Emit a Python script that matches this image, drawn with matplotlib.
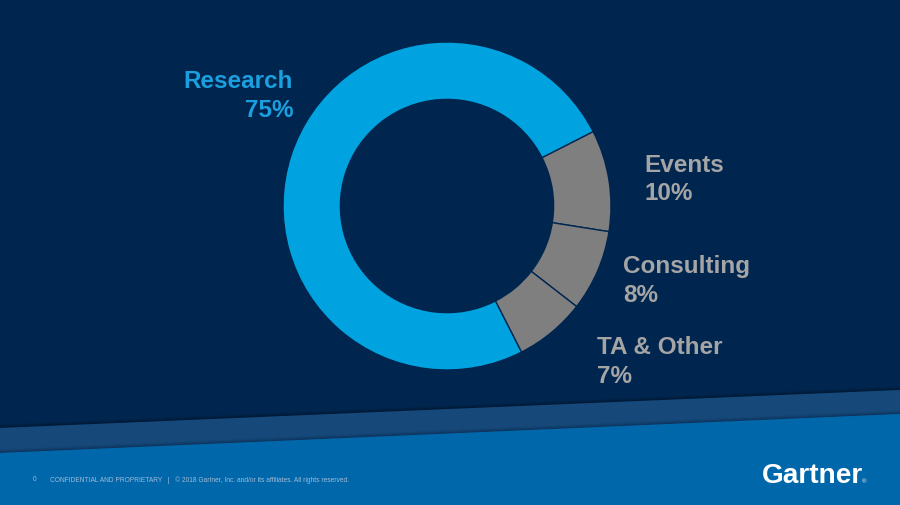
import matplotlib
matplotlib.use("Agg")
import matplotlib.pyplot as plt
from matplotlib.patches import Polygon

# Data
categories = ["Events", "Consulting", "TA & Other", "Research"]
shares = [10, 8, 7, 75]
pct_labels = ["10%", "8%", "7%", "75%"]

NAVY = "#00264f"
MID = "#16497a"
BRIGHT = "#0067aa"
CYAN = "#00a3e0"
GRAY = "#7f7f7f"
LABEL_GRAY = "#a5a5a5"
LABEL_CYAN = "#1aa0de"

plt.rcParams['font.family'] = ['Liberation Sans', 'DejaVu Sans']

W, H = 900, 506
fig = plt.figure(figsize=(9, 5.06), dpi=100, facecolor=NAVY)

# background layer in pixel coordinates
bg = fig.add_axes([0, 0, 1, 1])
bg.set_xlim(0, W)
bg.set_ylim(H, 0)
bg.axis("off")
bg.add_patch(Polygon([(0, 0), (W, 0), (W, H), (0, H)], closed=True, color=NAVY, zorder=0))
# shadow above middle band
for i, a in enumerate([0.10, 0.18, 0.28, 0.4]):
    off = 4 - i
    bg.add_patch(Polygon([(0, 429 - off), (W, 391 - off), (W, 391), (0, 429)],
                         closed=True, color="#00162f", alpha=a, lw=0, zorder=1))
bg.add_patch(Polygon([(0, 429), (W, 391), (W, H), (0, H)], closed=True, color=MID, lw=0, zorder=2))
for i, a in enumerate([0.10, 0.18, 0.28, 0.4]):
    off = 4 - i
    bg.add_patch(Polygon([(0, 454 - off), (W, 415 - off), (W, 415), (0, 454)],
                         closed=True, color="#0b2f55", alpha=a, lw=0, zorder=3))
bg.add_patch(Polygon([(0, 454), (W, 415), (W, H), (0, H)], closed=True, color=BRIGHT, lw=0, zorder=4))

# footer
bg.text(33, 480, "0", color="#9fbbd8", fontsize=4.75, va="center", ha="left", zorder=5)
bg.text(50, 480, "CONFIDENTIAL AND PROPRIETARY   |   \u00a9 2018 Gartner, Inc. and/or its affiliates. All rights reserved.",
        color="#9fbbd8", fontsize=4.75, va="center", ha="left", zorder=5)
bg.text(762, 483, "Gartner", color="white", fontsize=20.2, fontweight="bold",
        va="baseline", ha="left", zorder=5)
bg.text(862, 483, "\u00ae", color="white", fontsize=4.5, va="baseline", ha="left", zorder=5)

# labels
lab_kw = dict(fontsize=17.5, fontweight="bold", va="baseline", zorder=5)
bg.text(293, 88, categories[3], color=LABEL_CYAN, ha="right", **lab_kw)
bg.text(293, 117, pct_labels[3], color=LABEL_CYAN, ha="right", **lab_kw)
bg.text(644, 172, categories[0], color=LABEL_GRAY, ha="left", **lab_kw)
bg.text(644, 200, pct_labels[0], color=LABEL_GRAY, ha="left", **lab_kw)
bg.text(623, 273, categories[1], color=LABEL_GRAY, ha="left", **lab_kw)
bg.text(623, 302, pct_labels[1], color=LABEL_GRAY, ha="left", **lab_kw)
bg.text(597, 354, categories[2], color=LABEL_GRAY, ha="left", **lab_kw)
bg.text(597, 383, pct_labels[2], color=LABEL_GRAY, ha="left", **lab_kw)

# donut
cx, cy, r = 447, 207, 164
ax = fig.add_axes([(cx - r) / W, (H - cy - r) / H, 2 * r / W, 2 * r / H])
ax.patch.set_alpha(0)
colors = [GRAY, GRAY, GRAY, CYAN]
ax.pie(shares, colors=colors, startangle=27, counterclock=False, radius=1,
       wedgeprops=dict(width=0.35, edgecolor=NAVY, linewidth=1.0))
ax.set_xlim(-1, 1)
ax.set_ylim(-1, 1)
ax.set_aspect("equal")
ax.axis("off")

fig.savefig("out.png", dpi=100, facecolor=NAVY)
